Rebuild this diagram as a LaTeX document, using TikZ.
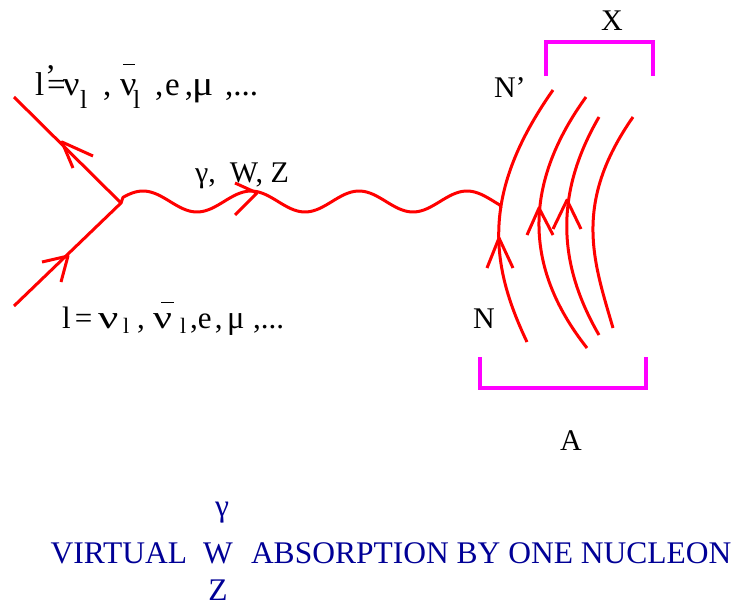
\documentclass[tikz,border=0pt]{standalone}
\usepackage{fontspec}
\setmainfont{Liberation Serif}
\definecolor{capblue}{RGB}{0,0,150}
\definecolor{brkmag}{RGB}{255,0,255}
\definecolor{fred}{RGB}{255,0,0}
\newcommand{\pc}[2]{\makebox[#1pt][l]{#2}}
\newcommand{\sbl}[2]{\raisebox{#1}{\fontsize{#2}{#2}\selectfont l}}
\newcommand{\gk}[2]{\scalebox{#1}[1.05]{#2}}
\newcommand{\nubar}[4]{\makebox[0pt][l]{\hspace{#1}\raisebox{#2}{\rule{#3}{1.3pt}}}\gk{#4}{ν}}
\begin{document}
\begin{tikzpicture}[x=1pt,y=-1pt,
  every node/.style={inner sep=0pt,outer sep=0pt},
  fline/.style={fred,line width=3pt,line join=round},
  brk/.style={brkmag,line width=3.5pt,line join=miter},
  lbl/.style={font=\fontsize{30}{36}\selectfont,anchor=base west},
  capt/.style={font=\fontsize{31.5}{38}\selectfont,text=capblue,anchor=base}]
\useasboundingbox (0,0) rectangle (738,605);
% lepton lines
\coordinate (lin) at (14,306);
\coordinate (vtx) at (121,203);
\coordinate (lout) at (14,97);
\coordinate (wend) at (501,208);
\draw[fline] (lin) -- (vtx) -- (lout);
\draw[fline] (42,262) -- (68,256) -- (61,282);
\draw[fline] (93,156) -- (62,142) -- (73,168);
% boson
\draw[fline] (vtx) -- plot[domain=123:500,samples=120,smooth] (\x,{201.5-10.5*cos((\x-143)*3.33333)}) -- (wend);
\draw[fline] (235,183) -- (257,193) -- (235,215);
% nucleon lines
\draw[fline] (553,90) .. controls (481,192.5) and (489.6,263.5) .. (527,342);
\draw[fline] (586,97) .. controls (526,180) and (520.3,263.6) .. (587,348);
\draw[fline] (599,117) .. controls (556,191) and (556,261) .. (599,335);
\draw[fline] (633,117) .. controls (572.4,203.9) and (593.5,261.1) .. (613,328);
\draw[fline] (487,268) -- (499,238) -- (513,268);
\draw[fline] (527,235) -- (539,208) -- (553,235);
\draw[fline] (553,229) -- (567,200) -- (581,229);
% brackets
\draw[brk] (546,76) -- (546,42) -- (653,42) -- (653,76);
\draw[brk] (480,357) -- (480,388) -- (646,388) -- (646,357);
% labels
\node[lbl] (lx) at (601,30) {X};
\node[lbl] (lnp) at (494,97) {N’};
\node[lbl] (ln) at (473,328) {N};
\node[lbl] (la) at (560,450) {A};
\node[lbl] (lg) at (195,182) {\pc{35}{γ,}W, Z};
\node[lbl,font=\fontsize{33}{38}\selectfont] (ltop) at (35,95) {\pc{10}{l}\pc{2}{\raisebox{8pt}{’}}\pc{16}{=}\pc{17}{\gk{1.1}{ν}}\pc{23}{\sbl{-13pt}{26}}\pc{17}{,}\pc{13}{\nubar{3pt}{30pt}{12pt}{1.1}}\pc{22}{\sbl{-13pt}{26}}\pc{10}{,}\pc{20}{e}\pc{7}{,}\pc{33}{\gk{1.2}{μ}},...};
\node[lbl,font=\fontsize{31}{37}\selectfont] (lbot) at (62,328) {\pc{13}{l}\pc{23}{=}\pc{25}{\gk{1.45}{ν}}\pc{14}{\sbl{-5pt}{22}}\pc{16}{,}\pc{27}{\nubar{8pt}{25pt}{13pt}{1.35}}\pc{10}{\sbl{-5pt}{22}}\pc{8}{,}\pc{17}{e}\pc{12}{,}\pc{26}{\gk{1.05}{μ}},...};
% caption
\node[capt,anchor=base east] (cv) at (187,563) {VIRTUAL};
\node[capt] (cw) at (218,563) {W};
\node[capt] (cg) at (222,516) {γ};
\node[capt] (cz) at (218,600) {Z};
\node[capt,anchor=base west] (ca) at (251,563) {ABSORPTION BY ONE NUCLEON};
\end{tikzpicture}
\end{document}
